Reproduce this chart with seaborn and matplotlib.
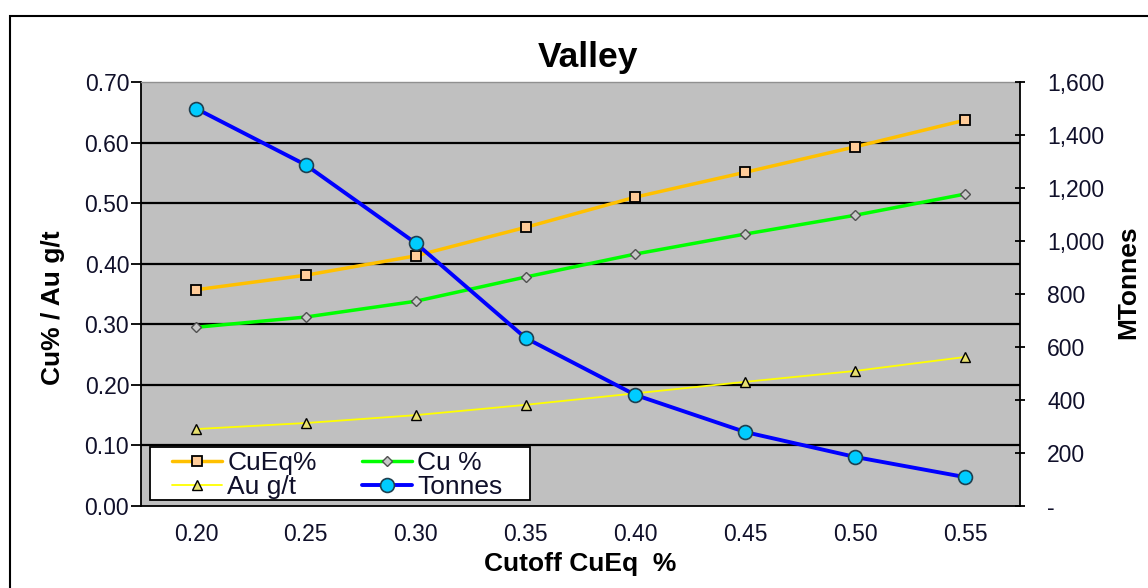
import matplotlib
matplotlib.use("Agg")
import matplotlib.pyplot as plt
import seaborn as sns
import pandas as pd
from matplotlib.lines import Line2D
from matplotlib.patches import Rectangle
from matplotlib.ticker import FixedLocator, FuncFormatter

cutoffs = ["0.20", "0.25", "0.30", "0.35", "0.40", "0.45", "0.50", "0.55"]
cueq = [0.357, 0.381, 0.413, 0.460, 0.510, 0.551, 0.593, 0.637]
cu = [0.295, 0.312, 0.338, 0.378, 0.416, 0.449, 0.480, 0.515]
au = [0.127, 0.137, 0.150, 0.167, 0.186, 0.205, 0.223, 0.246]
tonnes = [1500, 1287, 992, 634, 419, 279, 185, 109]

left_ticks = [0.00, 0.10, 0.20, 0.30, 0.40, 0.50, 0.60, 0.70]
right_ticks = [0, 200, 400, 600, 800, 1000, 1200, 1400, 1600]

df = pd.DataFrame({"cutoff": cutoffs, "CuEq%": cueq, "Cu %": cu,
                   "Au g/t": au, "Tonnes": tonnes})

sns.set_theme(style="white")
plt.rcParams["font.family"] = ["Liberation Sans", "DejaVu Sans"]
txt = "#10102a"

fig = plt.figure(figsize=(11.48, 5.88), dpi=100)
ax = fig.add_axes([141 / 1148, 82 / 588, (1020 - 141) / 1148, (506 - 82) / 588])
ax.set_facecolor("#c0c0c0")
ax2 = ax.twinx()

sty = {
    "CuEq%": dict(color="#ffc000", lw=2.5, marker="s", markersize=7,
                  markerfacecolor="#ffcc99", markeredgecolor="black", markeredgewidth=1.3),
    "Cu %": dict(color="#00ff00", lw=2.5, marker="D", markersize=5,
                 markerfacecolor="#c8c8c8", markeredgecolor="#505050", markeredgewidth=1.0),
    "Au g/t": dict(color="#ffff00", lw=1.3, marker="^", markersize=7,
                   markerfacecolor="#e8e070", markeredgecolor="black", markeredgewidth=1.0),
    "Tonnes": dict(color="#0000ff", lw=2.8, marker="o", markersize=10,
                   markerfacecolor="#00ccff", markeredgecolor="#1f3f4f", markeredgewidth=1.2),
}

for col in ["CuEq%", "Cu %", "Au g/t"]:
    sns.lineplot(data=df, x="cutoff", y=col, ax=ax, sort=False, zorder=3, **sty[col])
sns.lineplot(data=df, x="cutoff", y="Tonnes", ax=ax2, sort=False, zorder=3, **sty["Tonnes"])

ax.set_ylim(0, 0.70)
ax.set_xlim(-0.5, len(cutoffs) - 0.5)
ax2.set_ylim(0, 1600)

ax.set_yticks(left_ticks)
ax.set_yticklabels([f"{v:.2f}" for v in left_ticks])
for v in left_ticks[1:-1]:
    ax.axhline(v, color="black", lw=1.6, zorder=1)

ax.set_xticks(range(len(cutoffs)))
ax.set_xticklabels(cutoffs)
ax.xaxis.set_minor_locator(FixedLocator([i + 0.5 for i in range(len(cutoffs) - 1)]))
ax.tick_params(axis="x", which="major", length=0, pad=12, labelsize=16.5, labelcolor=txt)
ax.tick_params(axis="x", which="minor", length=7, width=1.3, color="black", direction="out")
ax.tick_params(axis="y", length=7, width=1.3, color="black", direction="out",
               labelsize=16.5, labelcolor=txt, pad=1.5)

ax2.set_yticks(right_ticks)
ax2.yaxis.set_major_formatter(FuncFormatter(lambda v, p: "-" if v == 0 else f"{int(v):,}"))
ax2.tick_params(axis="y", length=7, width=1.3, color="black", direction="inout",
                labelsize=16.5, labelcolor=txt, pad=16)

for a in (ax, ax2):
    for s in a.spines.values():
        s.set_visible(False)
for a, side in ((ax, "left"), (ax, "bottom"), (ax2, "right")):
    a.spines[side].set_visible(True)
    a.spines[side].set_color("black")
    a.spines[side].set_linewidth(1.3)
ax.spines["top"].set_visible(True)
ax.spines["top"].set_color("#909090")
ax.spines["top"].set_linewidth(1.0)

ax.set_xlabel("Cutoff CuEq  %", fontsize=19, fontweight="bold", color="black")
ax.xaxis.set_label_coords(0.5, -0.108)
ax.set_ylabel("Cu% / Au g/t", fontsize=19, fontweight="bold", color="black")
ax.yaxis.set_label_coords(-0.086, 0.467)
ax2.set_ylabel("MTonnes", fontsize=19, fontweight="bold", color="black", rotation=90)
ax2.yaxis.set_label_coords(1.110, 0.528)
ax.set_title("Valley", fontsize=25.5, fontweight="bold", color="black", pad=11, x=0.508)

if ax.get_legend():
    ax.get_legend().remove()

# legend frame
ax2.add_patch(Rectangle((9 / 879, 6 / 424), 380 / 879, 53 / 424, transform=ax2.transAxes,
                        facecolor="white", edgecolor="black", lw=1.3, zorder=4.5))
order = ["CuEq%", "Au g/t", "Cu %", "Tonnes"]
handles = [Line2D([], [], **sty[k]) for k in order]
leg = ax2.legend(handles, order, ncol=2, loc="upper left",
                 bbox_to_anchor=(31 / 879, 55 / 424), fontsize=19, frameon=False,
                 borderpad=0.0, borderaxespad=0.0, labelspacing=0.0, handlelength=1.9,
                 handletextpad=0.2, columnspacing=1.7)
leg.set_zorder(5)
for t in leg.get_texts():
    t.set_color(txt)

fig.patches.append(Rectangle((10 / 1148, -0.05), 1.2, (588 - 16) / 588 + 0.05,
                             transform=fig.transFigure, fill=False,
                             edgecolor="black", lw=1.5))

fig.savefig("out.png", dpi=100)
